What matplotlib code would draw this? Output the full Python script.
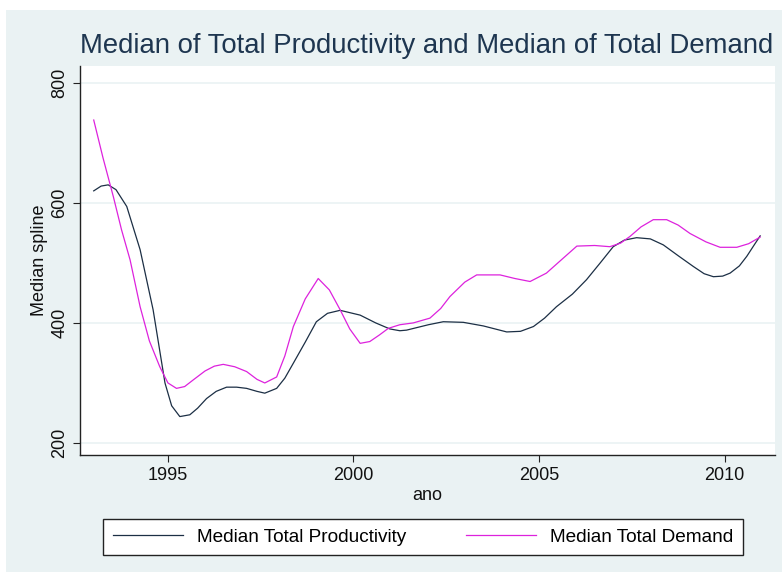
import matplotlib.pyplot as plt
from matplotlib.patches import Rectangle

# median spline of total productivity, by year
prod_years = [1993.0, 1993.2, 1993.39, 1993.6, 1993.89, 1994.25, 1994.6, 1994.92, 1995.1,
              1995.32, 1995.59, 1995.8, 1996.04, 1996.3, 1996.58, 1996.85, 1997.12, 1997.4,
              1997.61, 1997.93, 1998.15, 1998.38, 1998.7, 1999.0, 1999.3, 1999.64, 2000.18,
              2000.6, 2000.98, 2001.25, 2001.43, 2002.02, 2002.42, 2002.96, 2003.5, 2004.13,
              2004.5, 2004.85, 2005.15, 2005.47, 2005.9, 2006.28, 2006.65, 2007.0, 2007.3,
              2007.63, 2008.0, 2008.35, 2008.75, 2009.16, 2009.45, 2009.7, 2009.95, 2010.15,
              2010.4, 2010.6, 2010.8, 2010.96]
prod_values = [620, 628, 630, 622, 594, 522, 422, 300, 262,
               244, 247, 258, 274, 286, 293, 293, 291, 286,
               283, 291, 308, 333, 368, 402, 416, 421, 413,
               400, 390, 387, 388, 397, 402, 401, 395, 385,
               386, 394, 408, 427, 448, 472, 500, 527, 538,
               542, 540, 530, 512, 494, 482, 477, 478, 483,
               495, 511, 530, 545]

# median spline of total demand, by year
dem_years = [1993.0, 1993.25, 1993.53, 1993.75, 1993.98, 1994.25, 1994.5, 1994.78, 1995.0,
             1995.23, 1995.45, 1995.68, 1996.0, 1996.25, 1996.49, 1996.8, 1997.12, 1997.4,
             1997.61, 1997.93, 1998.15, 1998.38, 1998.7, 1999.05, 1999.35, 1999.64, 1999.9,
             2000.18, 2000.44, 2000.7, 2000.94, 2001.25, 2001.61, 2002.06, 2002.35, 2002.6,
             2003.0, 2003.32, 2003.95, 2004.35, 2004.76, 2005.2, 2005.6, 2006.02, 2006.5,
             2006.91, 2007.2, 2007.45, 2007.75, 2008.08, 2008.44, 2008.75, 2009.07, 2009.5,
             2009.88, 2010.33, 2010.65, 2010.96]
dem_values = [738, 675, 610, 555, 505, 427, 370, 327, 300,
              291, 294, 305, 320, 328, 331, 327, 319, 306,
              300, 310, 345, 394, 440, 474, 455, 422, 390,
              366, 369, 380, 391, 397, 400, 408, 424, 444,
              468, 480, 480, 474, 469, 483, 505, 528, 529,
              527, 533, 544, 560, 572, 572, 563, 549, 535,
              526, 526, 532, 543]

x_ticks = [1995, 2000, 2005, 2010]
y_ticks = [200, 400, 600, 800]

bg = '#eaf2f3'
navy = '#1c2f45'
magenta = '#dd22dd'

plt.rcParams['font.family'] = ['Liberation Sans', 'DejaVu Sans']

fig = plt.figure(figsize=(7.82, 5.75), dpi=100)
fig.patch.set_facecolor('white')
# light graph region behind everything, leaving a thin white margin
fig.patches.append(Rectangle((6/782, 3/575), 776/782, 562/575, transform=fig.transFigure,
                             facecolor=bg, edgecolor='none', zorder=-10))

ax = fig.add_axes([80/782, 1 - 455/575, 695/782, 389/575])
ax.set_facecolor('white')
ax.plot(prod_years, prod_values, color=navy, lw=0.9, label='Median Total Productivity')
ax.plot(dem_years, dem_values, color=magenta, lw=0.9, label='Median Total Demand')

ax.set_xlim(1992.63, 2011.36)
ax.set_ylim(180, 828)
ax.set_xticks(x_ticks)
ax.set_yticks(y_ticks)
ax.grid(axis='y', color=bg, lw=1.2)
ax.set_axisbelow(True)
for s in ['top', 'right']:
    ax.spines[s].set_visible(False)
for s in ['left', 'bottom']:
    ax.spines[s].set_color('#222222')
    ax.spines[s].set_linewidth(1.0)
ax.tick_params(axis='both', direction='out', length=5, width=0.8, color='#222222',
               labelsize=13, labelcolor='#111111')
ax.tick_params(axis='y', labelrotation=90)
for lab in ax.get_yticklabels():
    lab.set_va('center')

ax.set_xlabel('ano', fontsize=13, color='#111111', labelpad=2)
ax.set_ylabel('Median spline', fontsize=13, color='#111111', labelpad=2)

fig.text(80/782, 1 - 46/575, 'Median of Total Productivity and Median of Total Demand',
         fontsize=19.8, color='#1e3650', va='center', ha='left')

# legend box stretched across the bottom strip
leg = fig.legend(loc='center', bbox_to_anchor=(103/782, 1 - 555/575, 640/782, 36/575),
                 mode='expand', ncol=2, fontsize=13.7, frameon=True, fancybox=False,
                 handlelength=3.7, handletextpad=0.74, borderpad=0.5, borderaxespad=0)
leg.get_frame().set_edgecolor('#222222')
leg.get_frame().set_linewidth(1.0)
leg.get_frame().set_facecolor('white')
leg.get_frame().set_alpha(1)

fig.savefig('out.png', dpi=100)
